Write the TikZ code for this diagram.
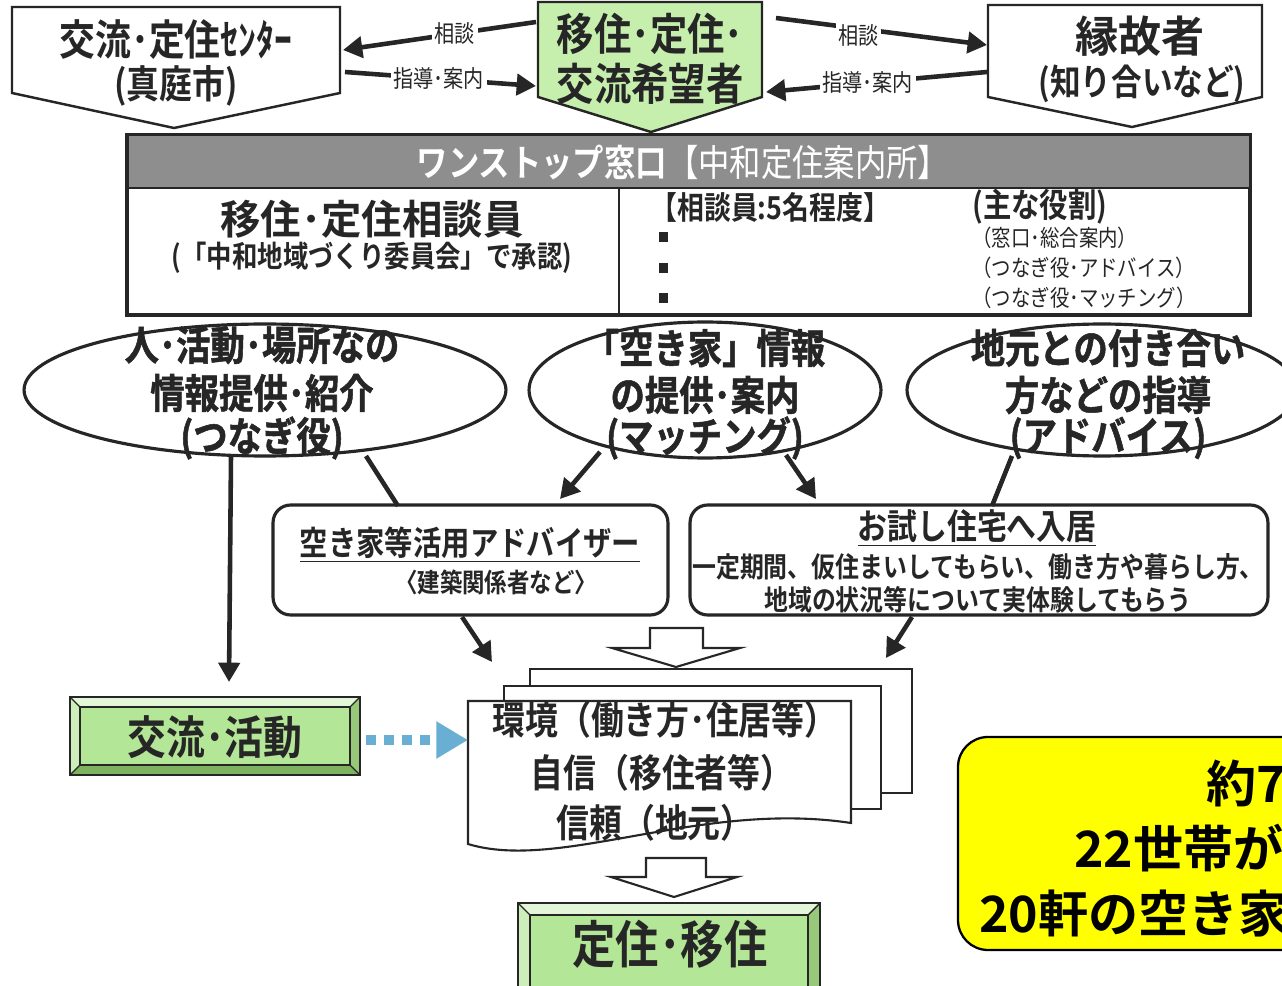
\documentclass[tikz,border=0pt]{standalone}
\usepackage{fontspec}
\usetikzlibrary{arrows.meta,shapes.geometric}
\newfontfamily\jp{Noto Sans CJK JP}[BoldFont={* Bold}]
\newfontfamily\jpc{Noto Sans CJK JP}[BoldFont={* Bold},FakeStretch=0.85]
\newfontfamily\jph{Noto Sans CJK JP}[UprightFont={* Bold},FakeStretch=0.85,FakeBold=1.3]
\newcommand\fz[1]{\fontsize{#1}{#1}\selectfont}
\definecolor{ink}{HTML}{262626}
\definecolor{palegreen}{HTML}{C6EFAE}
\definecolor{facegreen}{HTML}{B3E696}
\definecolor{bvtopc}{HTML}{E3F7D8}
\definecolor{bvleftc}{HTML}{CDEEBA}
\definecolor{bvbotc}{HTML}{7DB35F}
\definecolor{bvrightc}{HTML}{98C97B}
\definecolor{hdrgray}{HTML}{8E8E8E}
\definecolor{dotblue}{HTML}{68AFD3}
\definecolor{sticky}{HTML}{FFFF00}
\tikzset{
  txt/.style={inner sep=0pt, text=ink, align=center},
  pent/.style={draw=ink, line width=1.4pt},
  link/.style={draw=ink, line width=2.6pt, -{Triangle[length=11pt,width=12pt]}},
  bare/.style={draw=ink, line width=2.6pt},
  lbl/.style={font=\jpc\fz{13.5pt}, fill=white, inner sep=1.5pt, text=ink},
  oval/.style={draw=ink, line width=1.8pt, ellipse, fill=white, inner sep=0pt},
  rbox/.style={draw=ink, line width=1.8pt, rounded corners=10pt, fill=white, inner sep=0pt},
  hollow/.style={draw=ink, line width=1.2pt, fill=white},
  page/.style={draw=ink, line width=1.2pt, fill=white},
  dotlink/.style={draw=dotblue, line width=5.7pt, dash pattern=on 5.7pt off 4.6pt, -{Triangle[length=18pt,width=20pt]}},
}
\newcommand\bevel[5]{%
  \fill[bvtopc] (#1,#2) -- (#3,#2) -- (#3-#5,#2+#5) -- (#1+#5,#2+#5) -- cycle;
  \fill[bvleftc] (#1,#2) -- (#1+#5,#2+#5) -- (#1+#5,#4-#5) -- (#1,#4) -- cycle;
  \fill[bvbotc] (#1,#4) -- (#1+#5,#4-#5) -- (#3-#5,#4-#5) -- (#3,#4) -- cycle;
  \fill[bvrightc] (#3,#2) -- (#3,#4) -- (#3-#5,#4-#5) -- (#3-#5,#2+#5) -- cycle;
  \fill[facegreen] (#1+#5,#2+#5) rectangle (#3-#5,#4-#5);
  \draw[ink, line width=1.1pt] (#1,#2) rectangle (#3,#4);
  \draw[ink, line width=0.9pt] (#1+#5,#2+#5) rectangle (#3-#5,#4-#5);
  \draw[ink, line width=0.8pt] (#1,#2) -- (#1+#5,#2+#5) (#3,#2) -- (#3-#5,#2+#5)
     (#1,#4) -- (#1+#5,#4-#5) (#3,#4) -- (#3-#5,#4-#5);
}
\begin{document}
\begin{tikzpicture}[x=0.02cm,y=-0.02cm]
\useasboundingbox (0,0) rectangle (1282,986);
\clip (0,0) rectangle (1282,986);
\fill[white] (0,0) rectangle (1282,986);

% ---- top row of pentagons
\draw[pent, fill=white] (12,7) -- (340,7) -- (340,93) -- (174,128) -- (12,93) -- cycle;
\node[txt, font=\jpc\bfseries\fz{24pt}] (kc1) at (176,40) {交流･定住ｾﾝﾀｰ};
\node[txt, font=\jpc\bfseries\fz{22pt}] (kc2) at (176,86) {(真庭市)};

\draw[pent, fill=palegreen] (538,2) -- (762,2) -- (762,97) -- (651,132) -- (538,97) -- cycle;
\node[txt, font=\jpc\bfseries\fz{25pt}] (ij1) at (650,34) {移住･定住･};
\node[txt, font=\jpc\bfseries\fz{25pt}] (ij2) at (650,84) {交流希望者};

\draw[pent, fill=white] (988,5) -- (1262,5) -- (1262,97) -- (1132,127) -- (988,97) -- cycle;
\node[txt, font=\jp\bfseries\fz{24.5pt}] (en1) at (1140,36) {縁故者};
\node[txt, font=\jpc\bfseries\fz{20.5pt}] (en2) at (1142,84) {(知り合いなど)};

\coordinate (kcR1) at (343,50);
\coordinate (kcR2) at (345,72);
\coordinate (mL1) at (536,22);
\coordinate (mL2) at (536,86);
\coordinate (mR1) at (776,18);
\coordinate (mR2) at (766,92);
\coordinate (rL1) at (987,45);
\coordinate (rL2) at (987,72);

\draw[link] (mL1) -- node[lbl,pos=0.42]{相談} (kcR1);
\draw[link] (kcR2) -- node[lbl,pos=0.49]{指導･案内} (mL2);
\draw[link] (mR1) -- node[lbl,pos=0.39,yshift=-4pt]{相談} (rL1);
\draw[link] (rL2) -- node[lbl,pos=0.54]{指導･案内} (mR2);

% ---- one-stop window
\draw[ink, line width=2.6pt] (127,135) rectangle (1250,315);
\fill[hdrgray] (128.5,136.5) rectangle (1248.5,188);
\draw[ink, line width=1.4pt] (128,188) -- (1249,188);
\draw[ink, line width=1.4pt] (619,188) -- (619,314);
\node[txt, text=white, font=\jpc\fz{21pt}] (hdr) at (683,162) {\bfseries ワンストップ窓口\mdseries 【中和定住案内所】};
\node[txt, font=\jp\bfseries\fz{23pt}] (sod1) at (372,219) {移住･定住相談員};
\node[txt, font=\jpc\bfseries\fz{17pt}] (sod2) at (372,258) {(「中和地域づくり委員会」で承認)};
\node[txt, anchor=west, font=\jpc\bfseries\fz{18pt}] (cnt) at (650,207) {【相談員:5名程度】};
\foreach \yy in {237,268,298} \fill[ink] (659,\yy-5) rectangle (668,\yy+5);
\node[txt, anchor=west, font=\jpc\bfseries\fz{19pt}] (role0) at (972,207) {(主な役割)};
\node[txt, anchor=west, font=\jpc\fz{13pt}] (role1) at (972,238) {（窓口･総合案内）};
\node[txt, anchor=west, font=\jpc\fz{13pt}] (role2) at (972,268) {（つなぎ役･アドバイス）};
\node[txt, anchor=west, font=\jpc\fz{13pt}] (role3) at (972,298) {（つなぎ役･マッチング）};

% ---- ovals
\node[oval, minimum width=9.64cm, minimum height=2.64cm] (o1) at (265,390) {};
\node[oval, minimum width=7.04cm, minimum height=2.72cm] (o2) at (705,390) {};
\node[oval, minimum width=7.8cm, minimum height=2.64cm] (o3) at (1102,390) {};
\node[txt, font=\jph\fz{23pt}] (o1a) at (262,345) {人･活動･場所なの};
\node[txt, font=\jph\fz{23pt}] (o1b) at (262,393) {情報提供･紹介};
\node[txt, font=\jph\fz{23pt}] (o1c) at (262,438) {(つなぎ役)};
\node[txt, font=\jph\fz{23pt}] (o2a) at (705,348) {「空き家」情報};
\node[txt, font=\jph\fz{23pt}] (o2b) at (705,395) {の提供･案内};
\node[txt, font=\jph\fz{23pt}] (o2c) at (705,438) {(マッチング)};
\node[txt, font=\jph\fz{23pt}] (o3a) at (1108,348) {地元との付き合い};
\node[txt, font=\jph\fz{23pt}] (o3b) at (1108,395) {方などの指導};
\node[txt, font=\jph\fz{23pt}] (o3c) at (1108,438) {(アドバイス)};

% ---- middle boxes
\node[rbox, minimum width=7.9cm, minimum height=2.2cm] (adv) at (470.5,560) {};
\node[rbox, minimum width=11.56cm, minimum height=2.2cm] (trial) at (979,560) {};
\node[txt, font=\jpc\bfseries\fz{19pt}] (adv1) at (470,545) {\underline{空き家等活用アドバイザー}};
\node[txt, font=\jpc\bfseries\fz{15pt}] (adv2) at (496,582) {〈建築関係者など〉};
\node[txt, font=\jpc\bfseries\fz{20pt}] (tr1) at (977,528) {\underline{お試し住宅へ入居}};
\node[txt, font=\jpc\bfseries\fz{16pt}] (tr2) at (978,567) {一定期間、仮住まいしてもらい、働き方や暮らし方、};
\node[txt, font=\jpc\bfseries\fz{16pt}] (tr3) at (978,600) {地域の状況等について実体験してもらう};

% ---- connectors from ovals and boxes
\coordinate (o1d1) at (231,456);
\coordinate (kkTop) at (229,682);
\coordinate (o1d2) at (366,456);
\coordinate (advT1) at (398,506);
\coordinate (o2d1) at (600,452);
\coordinate (advT2) at (560,499);
\coordinate (o2d2) at (786,455);
\coordinate (trT1) at (816,499);
\coordinate (o3d1) at (1012,456);
\coordinate (trT2) at (992,506);
\coordinate (advB) at (462,617);
\coordinate (pgT1) at (492,662);
\coordinate (trB) at (912,617);
\coordinate (pgT2) at (886,658);
\draw[link] (o1d1) -- (kkTop);
\draw[bare] (o1d2) -- (advT1);
\draw[link] (o2d1) -- (advT2);
\draw[link] (o2d2) -- (trT1);
\draw[bare] (o3d1) -- (trT2);
\draw[link] (advB) -- (pgT1);
\draw[link] (trB) -- (pgT2);

% ---- hollow arrows
\draw[hollow] (650,628) -- (703,628) -- (703,648) -- (740,648) -- (676,667) -- (612,648) -- (650,648) -- cycle;
\draw[hollow] (646,858) -- (706,858) -- (706,877) -- (737,877) -- (674,897) -- (611,877) -- (646,877) -- cycle;

% ---- stacked pages
\draw[page] (530,669) rectangle (912,793);
\draw[page] (504,686) rectangle (881,809);
\draw[page] (468,701) -- (851,701) -- (851,823) .. controls (700,800) and (560,872) .. (468,844) -- cycle;
\node[txt, font=\jpc\bfseries\fz{22pt}] (pg1) at (665,720) {環境（働き方･住居等）};
\node[txt, font=\jpc\bfseries\fz{22pt}] (pg2) at (662,773) {自信（移住者等）};
\node[txt, font=\jpc\bfseries\fz{22pt}] (pg3) at (655,823) {信頼（地元）};
\coordinate (pgL) at (468,740);

% ---- green bevel boxes
\bevel{70}{697}{360}{775}{10}
\node[txt, font=\jpc\bfseries\fz{26pt}] (kk) at (215,737) {交流･活動};
\coordinate (kkR) at (366,740);
\bevel{518}{903}{820}{1000}{12}
\node[txt, font=\jpc\bfseries\fz{29pt}] (ts) at (670,944) {定住･移住};

\draw[dotlink] (kkR) -- (pgL);

% ---- yellow note
\draw[fill=sticky, draw=black, line width=1.3pt, rounded corners=0.6cm] (958,737) rectangle (1360,950);
\node[anchor=west, inner sep=0pt, font=\jp\bfseries\fz{28.5pt}] (y1) at (1206,783) {約7};
\node[anchor=west, inner sep=0pt, font=\jp\bfseries\fz{28.5pt}] (y2) at (1074,848) {22世帯が};
\node[anchor=west, inner sep=0pt, font=\jp\bfseries\fz{28.5pt}] (y3) at (979,914) {20軒の空き家};
\end{tikzpicture}
\end{document}
